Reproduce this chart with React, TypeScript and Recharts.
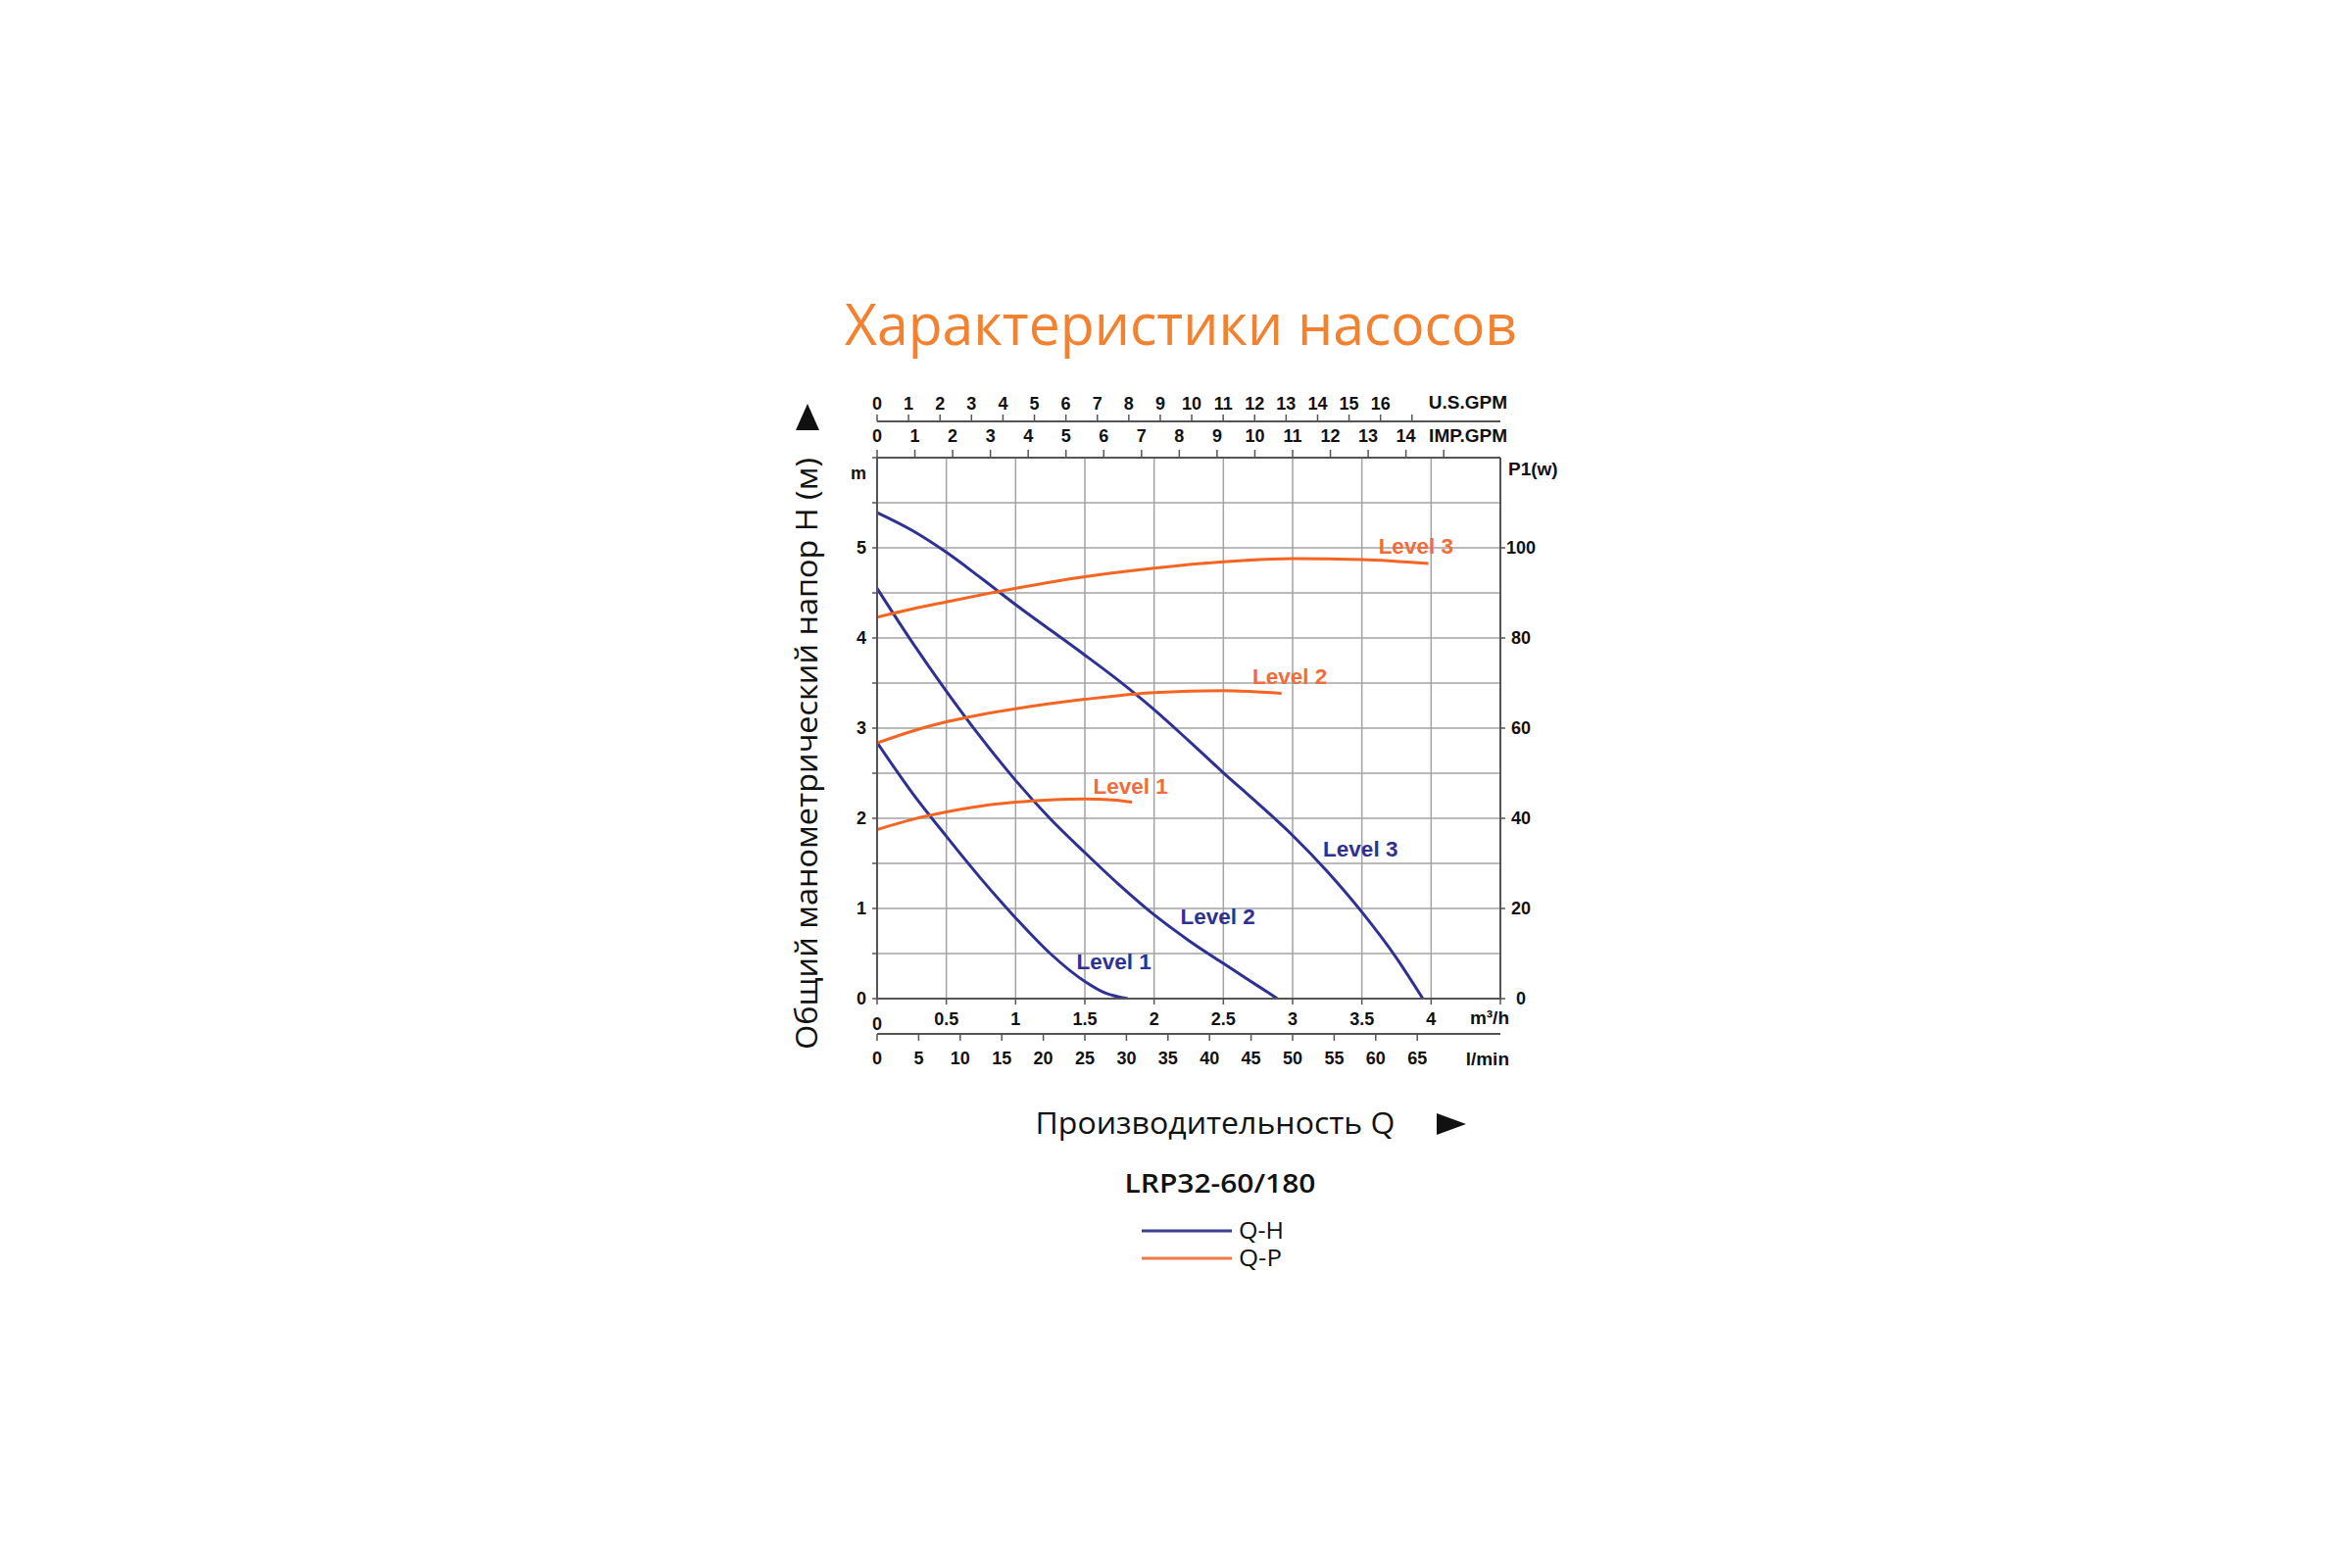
import { LineChart, Line, XAxis, YAxis, CartesianGrid, ReferenceDot } from 'recharts';

// Q-H curves: flow Q (m³/h) -> head H (m)
const headQ1 = [0, 0.25, 0.5, 0.75, 1, 1.25, 1.5, 1.65, 1.81];
const headH1 = [2.84, 2.29, 1.8, 1.33, 0.895, 0.5, 0.19, 0.06, 0];
const headQ2 = [0, 0.25, 0.5, 0.75, 1, 1.25, 1.5, 1.75, 2, 2.25, 2.5, 2.75, 2.89];
const headH2 = [4.55, 3.96, 3.41, 2.895, 2.42, 1.995, 1.62, 1.26, 0.93, 0.645, 0.39, 0.14, 0];
const headQ3 = [0, 0.25, 0.5, 0.75, 1, 1.25, 1.5, 1.75, 2, 2.25, 2.5, 2.75, 3, 3.25, 3.5, 3.75, 3.94];
const headH3 = [5.39, 5.195, 4.95, 4.665, 4.37, 4.09, 3.81, 3.52, 3.205, 2.86, 2.505, 2.165, 1.81, 1.41, 0.96, 0.45, 0];

// Q-P curves: flow Q (m³/h) -> power P1 (W)
const powerQ1 = [0, 0.25, 0.5, 0.75, 1, 1.25, 1.5, 1.7, 1.84];
const powerP1 = [37.5, 39.7, 41.4, 42.7, 43.6, 44.1, 44.3, 44.1, 43.6];
const powerQ2 = [0, 0.25, 0.5, 0.75, 1, 1.5, 2, 2.5, 2.92];
const powerP2 = [56.7, 59.3, 61.4, 63, 64.3, 66.4, 67.9, 68.3, 67.7];
const powerQ3 = [0, 0.25, 0.5, 0.89, 1.5, 2, 2.5, 3, 3.5, 3.98];
const powerP3 = [84.6, 86.4, 88, 90.4, 93.6, 95.5, 96.9, 97.6, 97.4, 96.5];

// axis ticks
const flowTicks = [0, 0.5, 1, 1.5, 2, 2.5, 3, 3.5, 4, 4.5];
const lminTicks = [0, 5, 10, 15, 20, 25, 30, 35, 40, 45, 50, 55, 60, 65];
const usGpmTicks = [0, 1, 2, 3, 4, 5, 6, 7, 8, 9, 10, 11, 12, 13, 14, 15, 16, 17];
const impGpmTicks = [0, 1, 2, 3, 4, 5, 6, 7, 8, 9, 10, 11, 12, 13, 14, 15];
const headTicks = [0, 0.5, 1, 1.5, 2, 2.5, 3, 3.5, 4, 4.5, 5, 5.5, 6];
const powerTicks = [0, 20, 40, 60, 80, 100];

// span of the flow scale (0 .. 4.5 m³/h) in the other units
const axisSpan = [
  { lmin: 0, us: 0, imp: 0 },
  { lmin: 75, us: 19.81, imp: 16.5 },
];

// curve labels (Q, value)
const headLabels = [
  { q: 1.71, v: 0.41, text: 'Level 1' },
  { q: 2.46, v: 0.91, text: 'Level 2' },
  { q: 3.49, v: 1.66, text: 'Level 3' },
];
const powerLabels = [
  { q: 1.83, v: 47.2, text: 'Level 1' },
  { q: 2.98, v: 71.5, text: 'Level 2' },
  { q: 3.89, v: 100.4, text: 'Level 3' },
];

const BLUE = '#2e3192';
const ORANGE = '#f26522';
const AXIS = '#555';
const GRID = '#a3a3a3';
const arial = '"Liberation Sans", Arial, sans-serif';
const tickFont = { fontFamily: arial, fontSize: 18, fontWeight: 700, fill: '#111' };
const captionFont = { fontFamily: arial, fontSize: 19, fontWeight: 700, fill: '#111' };
const labelFont = '"Open Sans", sans-serif';

const zip = (q: number[], v: number[]) => q.map((x, i) => ({ q: x, v: v[i] }));

function FlowTick(props: any) {
  const { x, y, payload } = props;
  const v = payload.value;
  if (v > 4) return null;
  return (
    <text x={x} y={y + (v === 0 ? 5 : 0)} dy="0.71em" textAnchor="middle" {...tickFont}>
      {v}
    </text>
  );
}

const axisLine = { stroke: AXIS, strokeWidth: 2 };
const tickLine = { stroke: AXIS, strokeWidth: 1.5 };

export default function App() {
  const curves = [
    { data: zip(headQ1, headH1), axis: 'h', color: BLUE },
    { data: zip(headQ2, headH2), axis: 'h', color: BLUE },
    { data: zip(headQ3, headH3), axis: 'h', color: BLUE },
    { data: zip(powerQ1, powerP1), axis: 'p', color: ORANGE },
    { data: zip(powerQ2, powerP2), axis: 'p', color: ORANGE },
    { data: zip(powerQ3, powerP3), axis: 'p', color: ORANGE },
  ];

  return (
    <div style={{ position: 'absolute', left: 0, top: 0, width: 2400, height: 1600, background: '#fff' }}>
      <LineChart width={2400} height={1600} data={axisSpan}
        margin={{ top: 390, right: 809, bottom: 495, left: 835 }}>
        <CartesianGrid xAxisId="flow" yAxisId="h" stroke={GRID} strokeWidth={1.5} />

        <XAxis xAxisId="flow" dataKey="q" type="number" domain={[0, 4.5]} allowDataOverflow
          ticks={flowTicks} interval={0} orientation="bottom" height={36}
          axisLine={axisLine} tickLine={tickLine} tickSize={6} tickMargin={8} tick={<FlowTick />} />
        <XAxis xAxisId="lmin" dataKey="lmin" type="number" domain={[0, 75]} allowDataOverflow
          ticks={lminTicks} interval={0} orientation="bottom" height={50}
          axisLine={axisLine} tickLine={tickLine} tickSize={7} tickMargin={11} tick={tickFont} />
        <XAxis xAxisId="imp" dataKey="imp" type="number" domain={[0, 16.5]} allowDataOverflow
          ticks={impGpmTicks} interval={0} orientation="top" height={37}
          axisLine={axisLine} tickLine={tickLine} tickSize={8} tickMargin={8} tick={tickFont}
          tickFormatter={(v: number) => (v > 14 ? '' : String(v))} />
        <XAxis xAxisId="us" dataKey="us" type="number" domain={[0, 19.81]} allowDataOverflow
          ticks={usGpmTicks} interval={0} orientation="top" height={40}
          axisLine={axisLine} tickLine={tickLine} tickSize={7} tickMargin={5} tick={tickFont}
          tickFormatter={(v: number) => (v > 16 ? '' : String(v))} />

        <YAxis yAxisId="h" type="number" domain={[0, 6]} allowDataOverflow ticks={headTicks} interval={0}
          width={60} axisLine={axisLine} tickLine={tickLine} tickSize={5} tickMargin={6} tick={tickFont}
          tickFormatter={(v: number) => (Number.isInteger(v) && v < 6 ? String(v) : '')} />
        <YAxis yAxisId="p" orientation="right" type="number" domain={[0, 120]} allowDataOverflow
          ticks={powerTicks} interval={0} width={60} axisLine={axisLine} tickLine={tickLine}
          tickSize={5} tickMargin={16} tick={{ ...tickFont, textAnchor: 'middle' }} />

        {curves.map((c, i) => (
          <Line key={i} data={c.data} dataKey="v" xAxisId="flow" yAxisId={c.axis} type="monotone"
            stroke={c.color} strokeWidth={3} dot={false} activeDot={false} isAnimationActive={false} />
        ))}

        {headLabels.map((l) => (
          <ReferenceDot key={'h' + l.text} xAxisId="flow" yAxisId="h" x={l.q} y={l.v} r={1} fill="none" stroke="none"
            label={{ value: l.text, position: 'center', fill: BLUE, fontSize: 22.5, fontWeight: 700, fontFamily: arial }} />
        ))}
        {powerLabels.map((l) => (
          <ReferenceDot key={'p' + l.text} xAxisId="flow" yAxisId="p" x={l.q} y={l.v} r={1} fill="none" stroke="none"
            label={{ value: l.text, position: 'center', fill: '#f26b3a', fontSize: 22.5, fontWeight: 700, fontFamily: arial }} />
        ))}
      </LineChart>

      <svg width={2400} height={1600} style={{ position: 'absolute', left: 0, top: 0, pointerEvents: 'none' }}>
        <text x={1205} y={352} textAnchor="middle" fontFamily={labelFont} fontSize={59} fill="#f28230"
          textLength={686} lengthAdjust="spacingAndGlyphs">Характеристики насосов</text>

        <text x={1538} y={417} textAnchor="end" {...captionFont}>U.S.GPM</text>
        <text x={1538} y={451} textAnchor="end" {...captionFont}>IMP.GPM</text>
        <text x={884} y={489} textAnchor="end" {...tickFont}>m</text>
        <text x={1539} y={485} textAnchor="start" {...captionFont}>P1(w)</text>
        <text x={1540} y={1045} textAnchor="end" {...captionFont}>m³/h</text>
        <text x={1540} y={1087} textAnchor="end" {...captionFont}>l/min</text>

        <polygon points="824,412 812,439 836,439" fill="#111" />
        <text transform="translate(834,769) rotate(-90)" textAnchor="middle" fontFamily={labelFont}
          fontSize={31} fill="#111" textLength={604} lengthAdjust="spacingAndGlyphs">
          Общий манометрический напор H (м)
        </text>

        <text x={1240} y={1157} textAnchor="middle" fontFamily={labelFont} fontSize={31} fill="#111"
          textLength={367} lengthAdjust="spacingAndGlyphs">Производительность Q</text>
        <polygon points="1466,1136 1496,1147 1466,1158" fill="#111" />

        <text x={1245} y={1217} textAnchor="middle" fontFamily={labelFont} fontSize={27} fontWeight={600}
          fill="#111" textLength={195} lengthAdjust="spacingAndGlyphs">LRP32-60/180</text>

        <line x1={1165} y1={1256} x2={1257} y2={1256} stroke="#3b3f8f" strokeWidth={3} />
        <text x={1264} y={1264} fontFamily={labelFont} fontSize={23} fontWeight={500} fill="#111"
          textLength={46} lengthAdjust="spacingAndGlyphs">Q-H</text>
        <line x1={1165} y1={1284} x2={1257} y2={1284} stroke="#f07a45" strokeWidth={3} />
        <text x={1264} y={1292} fontFamily={labelFont} fontSize={23} fontWeight={500} fill="#111"
          textLength={44} lengthAdjust="spacingAndGlyphs">Q-P</text>
      </svg>
    </div>
  );
}
